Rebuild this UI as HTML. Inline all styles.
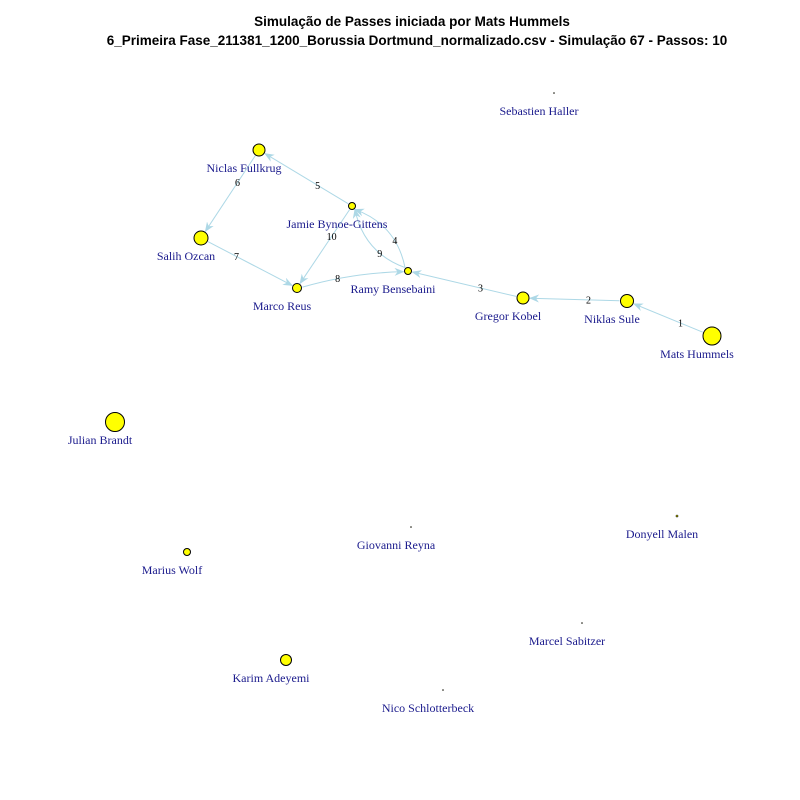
<!DOCTYPE html>
<html><head><meta charset="utf-8"><style>
html,body{margin:0;padding:0;background:#fff;}
svg{display:block;}
</style></head><body>
<svg id="chart" width="800" height="800" viewBox="0 0 800 800" xmlns="http://www.w3.org/2000/svg">
<rect width="800" height="800" fill="#fff"/>
<text x="412" y="26" text-anchor="middle" font-family="Liberation Sans, sans-serif" font-weight="bold" font-size="13.5">Simulação de Passes iniciada por Mats Hummels</text>
<text x="417" y="45" text-anchor="middle" font-family="Liberation Sans, sans-serif" font-weight="bold" font-size="13.5">6_Primeira Fase_211381_1200_Borussia Dortmund_normalizado.csv - Simulação 67 - Passos: 10</text>
<defs><marker id="arr" markerWidth="10" markerHeight="8" refX="9" refY="4" orient="auto" markerUnits="userSpaceOnUse"><path d="M0,0 L10,4 L0,8 L3,4 Z" fill="#ADD8E6"/></marker></defs>
<g id="edges"></g><g id="nodes"></g><g id="labels"></g>
</svg>
<script>
const players = ["Sebastien Haller","Niclas Fullkrug","Jamie Bynoe-Gittens","Salih Ozcan","Marco Reus","Ramy Bensebaini","Gregor Kobel","Niklas Sule","Mats Hummels","Julian Brandt","Donyell Malen","Giovanni Reyna","Marius Wolf","Marcel Sabitzer","Karim Adeyemi","Nico Schlotterbeck"];
const posX = [554,259,352,201,297,408,523,627,712,115,677,411,187,582,286,443];
const posY = [93,150,206,238,288,271,298,301,336,422,516,527,552,623,660,690];
const nodeSize = [0.5,6,3.5,7,4.5,3.5,6,6.5,9,9.5,1,0.5,3.5,0.5,5.5,0.5];
const passFrom = [8,7,6,5,2,1,3,4,5,2];
const passTo   = [7,6,5,2,1,3,4,5,2,4];
const passCurve = [0,0,0,0.25,0,0,0,-0.06,-0.25,0];
const NS="http://www.w3.org/2000/svg";
const eg=document.getElementById('edges'),ng=document.getElementById('nodes'),lg=document.getElementById('labels');
function mk(t,a){const e=document.createElementNS(NS,t);for(const k in a)e.setAttribute(k,a[k]);return e;}
for(let i=0;i<passFrom.length;i++){
  const a=passFrom[i],b=passTo[i];
  const x1=posX[a],y1=posY[a],x2=posX[b],y2=posY[b];
  const dx=x2-x1,dy=y2-y1,L=Math.hypot(dx,dy);
  const ux=dx/L,uy=dy/L;
  const sx=x1+ux*(nodeSize[a]+1),sy=y1+uy*(nodeSize[a]+1);
  const ex=x2-ux*(nodeSize[b]+1),ey=y2-uy*(nodeSize[b]+1);
  const c=passCurve[i];
  const cx=(x1+x2)/2-uy*c*L,cy=(y1+y2)/2+ux*c*L;
  const p=mk('path',{d:`M${sx},${sy} Q${cx},${cy} ${ex},${ey}`,fill:'none',stroke:'#ADD8E6','stroke-width':1,'marker-end':'url(#arr)'});
  
  
  eg.appendChild(p);
  const t0=0.37;
  const mx=(1-t0)*(1-t0)*x1+2*t0*(1-t0)*cx+t0*t0*x2,my=(1-t0)*(1-t0)*y1+2*t0*(1-t0)*cy+t0*t0*y2;
  const t=mk('text',{x:mx,y:my+3.5,'text-anchor':'middle','font-family':'Liberation Serif, serif','font-size':10,fill:'#000'});
  t.textContent=String(i+1);
  
  
  eg.appendChild(t);
}
for(let i=0;i<players.length;i++){
  const c=mk('circle',{cx:posX[i],cy:posY[i],r:nodeSize[i],fill:'#FFFF00',stroke:'#000','stroke-width':nodeSize[i]>1?1:0.6});
  
  
  ng.appendChild(c);
  const t=mk('text',{x:posX[i]-15,y:posY[i]+22,'text-anchor':'middle','font-family':'Liberation Serif, serif','font-size':12,fill:'#1a1a8c'});
  t.textContent=players[i];
  
  
  lg.appendChild(t);
}
</script>
</body></html>
